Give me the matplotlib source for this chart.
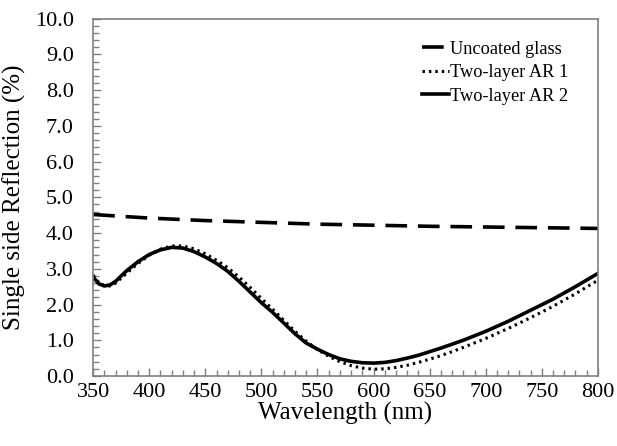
import numpy as np
import matplotlib.pyplot as plt
from matplotlib.ticker import MultipleLocator, FormatStrFormatter

plt.rcParams["font.family"] = ["Liberation Serif", "DejaVu Serif"]

# Uncoated glass
glass_wl = [350, 400, 450, 500, 550, 600, 650, 700, 750, 800]
glass_r = [4.52, 4.42, 4.35, 4.30, 4.25, 4.22, 4.19, 4.17, 4.15, 4.13]

# Two-layer AR coatings
ar_wl = [350, 355, 360, 365, 370, 380, 390, 400, 410, 420, 430, 440, 450,
         460, 470, 480, 490, 500, 510, 520, 530, 540, 550, 560, 570, 580,
         590, 600, 610, 620, 630, 640, 650, 660, 670, 680, 700, 720, 740,
         760, 780, 800]
ar1_r = [2.82, 2.62, 2.53, 2.52, 2.60, 2.88, 3.15, 3.38, 3.55, 3.64, 3.64,
         3.56, 3.42, 3.24, 3.03, 2.77, 2.48, 2.17, 1.87, 1.56, 1.25, 0.97,
         0.74, 0.55, 0.40, 0.29, 0.22, 0.19, 0.20, 0.24, 0.30, 0.38, 0.47,
         0.57, 0.68, 0.80, 1.05, 1.33, 1.63, 1.95, 2.30, 2.68]
ar2_r = [2.77, 2.58, 2.52, 2.55, 2.65, 2.95, 3.20, 3.40, 3.53, 3.60, 3.58,
         3.48, 3.33, 3.15, 2.93, 2.65, 2.35, 2.05, 1.78, 1.48, 1.18, 0.92,
         0.75, 0.60, 0.48, 0.41, 0.37, 0.36, 0.38, 0.43, 0.50, 0.58, 0.68,
         0.78, 0.89, 1.00, 1.25, 1.53, 1.84, 2.15, 2.50, 2.87]

fig = plt.figure(figsize=(6.17, 4.46), dpi=100)
ax = fig.add_axes([0.151, 0.157, 0.818, 0.801])

ax.plot(glass_wl, glass_r, color="black", lw=2.6, dashes=(6, 3),
        label="Uncoated glass")
ax.plot(ar_wl, ar1_r, color="black", lw=2.2, linestyle=(0, (0.8, 1.3)),
        label="Two-layer AR 1")
ax.plot(ar_wl, ar2_r, color="black", lw=2.6, label="Two-layer AR 2")

ax.set_xlim(350, 800)
ax.set_ylim(0, 10)
ax.xaxis.set_major_locator(MultipleLocator(50))
ax.xaxis.set_minor_locator(MultipleLocator(10))
ax.yaxis.set_major_locator(MultipleLocator(1))
ax.yaxis.set_minor_locator(MultipleLocator(0.2))
ax.yaxis.set_major_formatter(FormatStrFormatter("%.1f"))

for s in ax.spines.values():
    s.set_color("#808080")
    s.set_linewidth(1.2)
ax.tick_params(which="both", direction="in", color="#808080", labelsize=16)
ax.tick_params(which="major", length=6, width=1)
ax.tick_params(which="minor", length=4, width=1)
ax.tick_params(axis="y", which="both", pad=14)
ax.tick_params(axis="x", which="both", pad=5)

ax.set_xlabel("Wavelength (nm)", fontsize=18, labelpad=0)
ax.set_ylabel("Single side Reflection (%)", fontsize=18, labelpad=6)

ax.legend(loc="upper right", frameon=False, fontsize=13.2, handlelength=1.5,
          handletextpad=0.05, labelspacing=0.35, borderaxespad=0.8,
          bbox_to_anchor=(0.985, 1.0))

fig.savefig("out.png", dpi=100)
